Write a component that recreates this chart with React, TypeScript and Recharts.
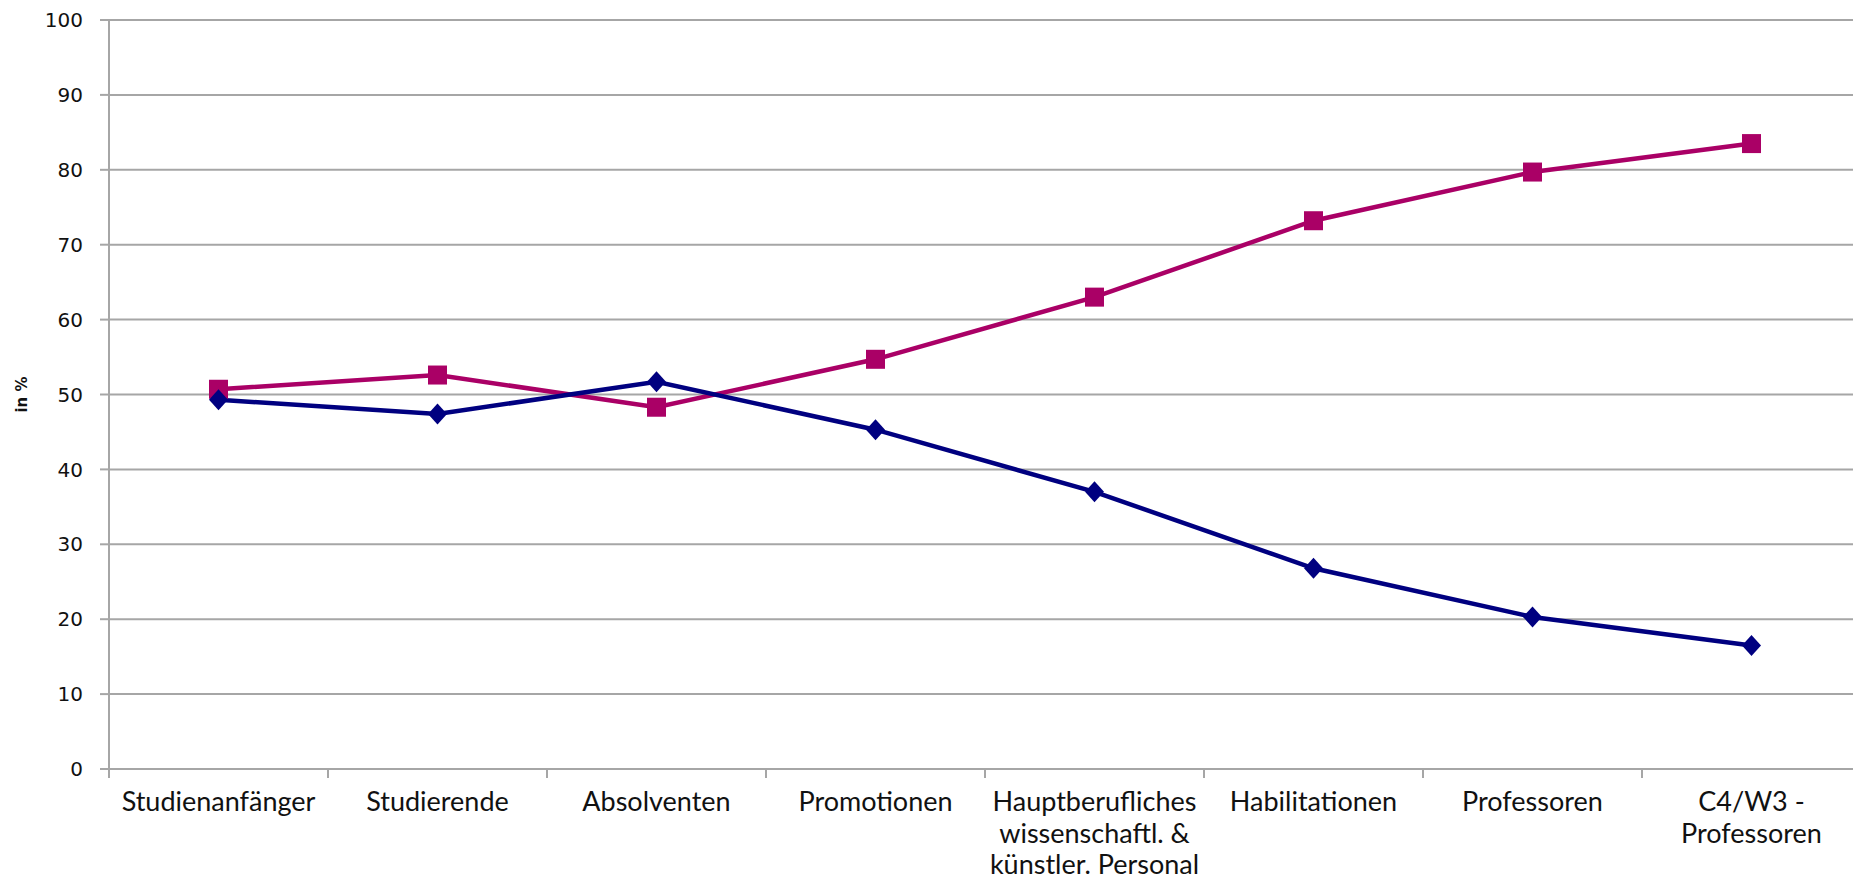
import React from "react";
import { LineChart, Line, XAxis, YAxis, CartesianGrid } from "recharts";

const categories: string[][] = [
  ["Studienanfänger"],
  ["Studierende"],
  ["Absolventen"],
  ["Promotionen"],
  ["Hauptberufliches", "wissenschaftl. &", "künstler. Personal"],
  ["Habilitationen"],
  ["Professoren"],
  ["C4/W3 -", "Professoren"],
];
const pinkSeries = [50.7, 52.6, 48.3, 54.7, 63.0, 73.2, 79.7, 83.5];
const blueSeries = [49.3, 47.4, 51.7, 45.3, 37.0, 26.8, 20.3, 16.5];
const yTicks = [0, 10, 20, 30, 40, 50, 60, 70, 80, 90, 100];
const yTitle = "in %";

const PINK = "#AA0066";
const BLUE = "#000080";
const GRID = "#A6A6A6";

const data = categories.map((lines, i) => ({
  pos: i + 0.5,
  label: lines,
  pink: pinkSeries[i],
  blue: blueSeries[i],
}));

const xTicks: number[] = [];
for (let i = 0; i <= categories.length; i++) {
  xTicks.push(i);
  if (i < categories.length) xTicks.push(i + 0.5);
}

const XTick = (props: any) => {
  const { x, y, payload } = props;
  const v = payload.value as number;
  if (Number.isInteger(v)) {
    return <line x1={x} x2={x} y1={y} y2={y + 9} stroke={GRID} strokeWidth={2} />;
  }
  const lines = categories[Math.floor(v)];
  return (
    <text
      x={x}
      y={y + 42}
      textAnchor="middle"
      fill="#111"
      style={{ fontFamily: "Lato, 'Open Sans', sans-serif", fontSize: 27 }}
    >
      {lines.map((l, i) => (
        <tspan key={i} x={x} dy={i === 0 ? 0 : 31.5}>
          {l}
        </tspan>
      ))}
    </text>
  );
};

const YTitle = (props: any) => {
  const vb = props.viewBox || { x: 109, y: 20, width: 0, height: 749 };
  const cy = vb.y + vb.height / 2;
  const cx = 22;
  return (
    <text
      x={cx}
      y={cy}
      transform={`rotate(-90, ${cx}, ${cy})`}
      textAnchor="middle"
      dominantBaseline="central"
      fill="#111"
      style={{ fontFamily: "'DejaVu Sans', sans-serif", fontWeight: "bold", fontSize: 15 }}
    >
      {yTitle}
    </text>
  );
};

const Square = (props: any) => {
  const { cx, cy, index } = props;
  if (cx == null || cy == null) return <g key={`s${index}`} />;
  return <rect key={`s${index}`} x={cx - 9.5} y={cy - 9.5} width={19} height={19} fill={PINK} />;
};

const Diamond = (props: any) => {
  const { cx, cy, index } = props;
  if (cx == null || cy == null) return <g key={`d${index}`} />;
  return (
    <path
      key={`d${index}`}
      d={`M${cx},${cy - 10.5} L${cx + 9.5},${cy} L${cx},${cy + 10.5} L${cx - 9.5},${cy} Z`}
      fill={BLUE}
    />
  );
};

export default function App() {
  return (
    <div
      style={{
        position: "absolute",
        left: 0,
        top: 0,
        width: 1853,
        height: 879,
        overflow: "hidden",
        background: "#fff",
      }}
    >
      <LineChart
        width={1861}
        height={879}
        data={data}
        margin={{ top: 20, right: 0, left: 0, bottom: 0 }}
      >
        <CartesianGrid vertical={false} stroke={GRID} strokeWidth={2} />
        <XAxis
          dataKey="pos"
          type="number"
          domain={[0, categories.length]}
          ticks={xTicks}
          interval={0}
          tickLine={false}
          tickSize={0}
          tickMargin={0}
          height={110}
          axisLine={{ stroke: GRID, strokeWidth: 2 }}
          tick={<XTick />}
        />
        <YAxis
          domain={[0, 100]}
          ticks={yTicks}
          interval={0}
          width={109}
          tickSize={9}
          tickMargin={17}
          tickLine={{ stroke: GRID, strokeWidth: 2 }}
          axisLine={{ stroke: GRID, strokeWidth: 2 }}
          tick={{ fill: "#111", fontSize: 20, fontFamily: "'DejaVu Sans', Verdana, sans-serif" }}
          label={<YTitle />}
        />
        <Line
          type="linear"
          dataKey="pink"
          stroke={PINK}
          strokeWidth={4.5}
          dot={<Square />}
          activeDot={false}
          isAnimationActive={false}
        />
        <Line
          type="linear"
          dataKey="blue"
          stroke={BLUE}
          strokeWidth={4.5}
          dot={<Diamond />}
          activeDot={false}
          isAnimationActive={false}
        />
      </LineChart>
    </div>
  );
}
